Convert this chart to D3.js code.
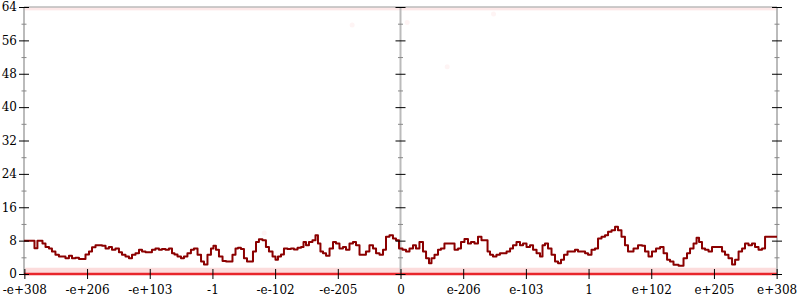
<!DOCTYPE html>
<html>
<head>
<meta charset="utf-8">
<script src="https://cdn.jsdelivr.net/npm/d3@7"></script>
<style>
  body { margin: 0; background: #fff; }
  svg { display: block; font-family: "DejaVu Serif", serif; font-size: 12px; }
</style>
</head>
<body>
<div id="chart"></div>
<script>
var width = 800, height = 300;
var margin = {top: 7, right: 23, bottom: 26, left: 24};

// x positions are signed biased exponents of a double (-2048 .. 2048)
var xTicks = [-2046, -1705, -1364, -1023, -682, -341, 0, 341, 682, 1023, 1364, 1705, 2046];
var xTickLabels = ["-e+308", "-e+206", "-e+103", "-1", "-e-102", "-e-205", "0",
                   "e-206", "e-103", "1", "e+102", "e+205", "e+308"];
var axisPositions = [-2048, 0, 2048];

var yMajor = [0, 8, 16, 24, 32, 40, 48, 56, 64];
var yMinor = [4, 12, 20, 28, 36, 44, 52, 60];

// running average line: [x, value]
var lineX = [-2048, -1996, -1986, -1964, -1953, -1942, -1920, -1904, -1888, -1866, -1850, -1833,
  -1812, -1795, -1779, -1757, -1741, -1724, -1703, -1686, -1670, -1648, -1632, -1615, -1594,
  -1578, -1561, -1540, -1523, -1507, -1485, -1469, -1452, -1431, -1414, -1398, -1376, -1360,
  -1344, -1322, -1306, -1289, -1268, -1251, -1235, -1224, -1202, -1186, -1170, -1148, -1132,
  -1115, -1093, -1077, -1061, -1039, -1023, -1012, -996, -979, -957, -941, -925, -903, -892,
  -876, -860, -843, -827, -811, -794, -778, -762, -740, -724, -707, -685, -675, -658, -642,
  -626, -604, -588, -571, -549, -533, -522, -506, -490, -468, -457, -441, -430, -413, -397,
  -375, -359, -343, -321, -305, -288, -267, -250, -234, -212, -196, -180, -158, -141, -125,
  -103, -87, -71, -49, -33, -16, 0, 22, 38, 60, 76, 92, 114, 131, 147, 163, 174, 196, 212,
  228, 250, 267, 283, 305, 321, 337, 359, 375, 392, 413, 430, 451, 468, 479, 495, 511, 533,
  549, 566, 588, 604, 620, 642, 658, 675, 696, 713, 729, 751, 767, 778, 794, 811, 832, 849,
  865, 881, 898, 919, 941, 957, 974, 996, 1012, 1028, 1050, 1066, 1083, 1104, 1121, 1137,
  1159, 1175, 1191, 1213, 1229, 1246, 1257, 1278, 1306, 1322, 1338, 1360, 1376, 1404, 1420,
  1442, 1458, 1474, 1496, 1529, 1550, 1567, 1583, 1605, 1616, 1632, 1648, 1665, 1686, 1703,
  1719, 1741, 1757, 1773, 1795, 1812, 1828, 1850, 1866, 1882, 1904, 1920, 1937, 1958, 1975,
  1991, 2048];
var lineY = [8, 8, 6.2, 8, 8, 7.3, 6.5, 6.1, 5.4, 4.6, 4.2, 4.2,
  3.8, 4.4, 3.8, 3.9, 3.6, 3.6, 4.7, 5.4, 6.4, 6.9, 6.9, 6.8, 6.1,
  6.5, 5.8, 6.1, 5.2, 4.6, 4.2, 3.8, 4.6, 5, 5.8, 5.4, 5.2, 5.2,
  5.8, 6.1, 5.8, 6, 5.8, 6.1, 5, 4.7, 4.2, 3.8, 4.2, 5, 5.8,
  6.1, 4.6, 3, 2.3, 4.6, 6.1, 6.8, 5.8, 4.2, 3.1, 3, 3, 4.6, 6.1,
  6.3, 6, 3.8, 3, 3, 5.4, 7.7, 8.3, 8.1, 6.5, 5.4, 4.2, 3.4, 4.2, 4.7,
  6.1, 6, 6.1, 5.9, 6.3, 6.5, 7.7, 6.9, 7.7, 8.1, 9.3, 7.3, 5.4, 5, 4.4,
  6.1, 7.7, 7.3, 6.1, 6.5, 5.8, 7.3, 7.7, 6.9, 4.6, 4.6, 5.4, 6.9, 6.1, 5,
  4.6, 5.8, 8.9, 9.3, 8.5, 8.1, 6.1, 5.8, 5.4, 6.1, 6.9, 6.1, 7.7, 5.4, 3.8, 2.6, 3.8, 4.6, 5.8,
  6.1, 7.3, 7.3, 7.3, 5.8, 6.1, 7.7, 8.4, 7.3, 7.7, 7.3, 8.9, 8.1, 8.1, 5.4, 4.6, 4.2, 4.6,
  5, 5, 5.4, 6.1, 6.9, 7.7, 6.9, 7.3, 6.5, 6.9, 5.8, 5, 4.2, 6.9, 7.3, 6.1, 4.6, 3,
  2.6, 3.4, 4.6, 5.4, 5.4, 5.8, 5.4, 5.4, 5, 4.6, 5.8, 6.1, 8.5, 8.9, 9.3, 10.1,
  10.5, 11.3, 10.5, 8.9, 6.9, 5.4, 5.4, 6.1, 6.9, 6.8, 5.4, 4.2, 5.4, 6.1, 6.5,
  5, 3.4, 3, 2.2, 2, 3.8, 5, 6.1, 7.3, 8.7, 7.7, 6.1, 5.8, 5.4, 6.5,
  6.5, 6.5, 5.4, 4.6, 3.8, 2.3, 3.4, 5.4, 6.1, 7.3, 6.9, 7.3, 6.5, 5.8, 6.1,
  8.9, 8.9];

// faint sample clouds: [low value, high value, opacity]
var bandLow = [0, 63.2];
var bandHigh = [1.5, 64];
var bandAlpha = [0.17, 0.11];
var baselineValue = 0;

// stray samples [x, value]
var strayX = [-263, 36, 254, 506, -741];
var strayY = [59.7, 60.3, 49.7, 62.3, 9.8];

var graphWidth = width - margin.left - margin.right;
var graphHeight = height - margin.top - margin.bottom;

var svg = d3.select("#chart")
  .append("svg")
  .attr("width", width)
  .attr("height", height)
  .append("g")
  .attr("transform", "translate(" + margin.left + "," + margin.top + ")");

var x = d3.scaleLinear().domain([-2048, 2048]).range([0, graphWidth]);
var y = d3.scaleLinear().domain([0, 64]).range([graphHeight, 0]);

// sample clouds
bandLow.forEach(function(lo, i) {
  svg.append("rect")
    .attr("x", x(-2048))
    .attr("width", x(2048) - x(-2048))
    .attr("y", y(bandHigh[i]))
    .attr("height", y(lo) - y(bandHigh[i]))
    .style("fill", "#f03030")
    .style("opacity", bandAlpha[i]);
});

svg.selectAll(".stray")
  .data(strayX)
  .enter()
  .append("circle")
  .attr("class", "stray")
  .attr("cx", function(d) { return x(d); })
  .attr("cy", function(d, i) { return y(strayY[i]); })
  .attr("r", 2.5)
  .style("fill", "#f03030")
  .style("opacity", 0.05);

// frame lines
var grey = "#bbb";
[0, 64].forEach(function(v) {
  svg.append("line")
    .attr("x1", x(-2048)).attr("x2", x(2048))
    .attr("y1", y(v)).attr("y2", y(v))
    .style("stroke", grey).style("stroke-width", 1.5);
});
axisPositions.forEach(function(p) {
  svg.append("line")
    .attr("x1", x(p)).attr("x2", x(p))
    .attr("y1", y(0)).attr("y2", y(64))
    .style("stroke", grey).style("stroke-width", 2);
});

// baseline of zero-valued samples
svg.append("line")
  .attr("x1", x(-2048)).attr("x2", x(2048))
  .attr("y1", y(baselineValue)).attr("y2", y(baselineValue))
  .style("stroke", "#e8262c")
  .style("stroke-width", 2.5);

// the line
var line = d3.line()
  .curve(d3.curveStep)
  .x(function(d) { return x(d); })
  .y(function(d, i) { return y(lineY[i]); });

svg.append("path")
  .datum(lineX)
  .attr("d", line)
  .style("fill", "none")
  .style("stroke", "#8b0000")
  .style("stroke-width", 2)
  .style("stroke-linejoin", "round");

// y axes
axisPositions.forEach(function(p, k) {
  var major = (k == 0 ? d3.axisLeft(y) : d3.axisRight(y))
    .tickValues(yMajor)
    .tickSize(5)
    .tickPadding(2);
  if (k != 0) { major.tickFormat(""); }
  var g = svg.append("g")
    .attr("transform", "translate(" + x(p) + ",0)")
    .call(major);
  g.select(".domain").remove();
  g.selectAll(".tick line").attr("x1", k == 0 ? 5 : -5).style("stroke", "#000");
  g.selectAll("text").style("font-family", "DejaVu Serif, serif").style("font-size", "12px");

  var minor = d3.axisLeft(y).tickValues(yMinor).tickSize(2.5).tickFormat("");
  var gm = svg.append("g")
    .attr("transform", "translate(" + x(p) + ",0)")
    .call(minor);
  gm.select(".domain").remove();
  gm.selectAll(".tick line").attr("x1", 2.5).style("stroke", "#888");
});

// x axis
var xg = svg.append("g")
  .attr("transform", "translate(0," + graphHeight + ")")
  .call(d3.axisBottom(x)
    .tickValues(xTicks)
    .tickSize(5)
    .tickPadding(6)
    .tickFormat(function(d, i) { return xTickLabels[i]; }));
xg.select(".domain").remove();
xg.selectAll(".tick line").attr("y1", -5).style("stroke", "#000");
xg.selectAll("text").style("font-family", "DejaVu Serif, serif").style("font-size", "12px");
</script>
</body>
</html>
